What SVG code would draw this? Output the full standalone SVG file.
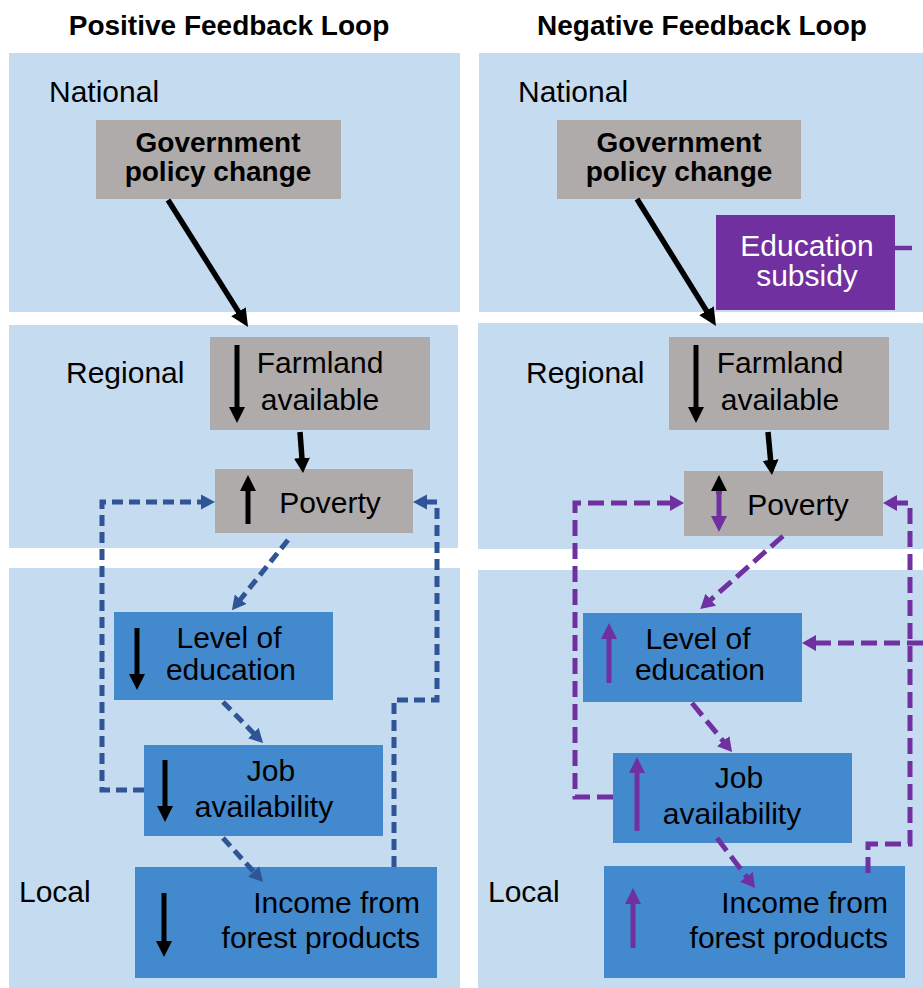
<svg xmlns="http://www.w3.org/2000/svg" width="923" height="988" viewBox="0 0 923 988">
  <style>
    .band { fill: #C5DBEF; }
    .gray { fill: #AFABAB; }
    .blue { fill: #4389CE; }
    .purple { fill: #7030A0; }
    text { font-family: "Liberation Sans", Arial, sans-serif; fill: #000; }
    .title { font-size: 28px; font-weight: bold; text-anchor: middle; }
    .lvl { font-size: 30px; }
    .bold { font-size: 28px; font-weight: bold; text-anchor: middle; }
    .lbl { font-size: 30px; text-anchor: middle; }
    .lblr { font-size: 30px; text-anchor: end; }
    .white { fill: #FFFFFF; }
    .solid { fill: none; stroke: #000; stroke-width: 5.5; }
    .inner-k { fill: none; stroke: #000; stroke-width: 5; }
    .inner-p { fill: none; stroke: #7030A0; stroke-width: 5; }
    .dash-b { fill: none; stroke: #2F5597; stroke-width: 5; stroke-dasharray: 11 6; }
    .dash-p { fill: none; stroke: #7030A0; stroke-width: 5; stroke-dasharray: 16 7; }
  </style>
  <defs>
    <marker id="hBig" markerUnits="userSpaceOnUse" markerWidth="20" markerHeight="20" viewBox="0 -9 20 18" refX="1" refY="0" orient="auto">
      <path d="M0,-8.5 L18,0 L0,8.5 z" fill="#000"/>
    </marker>
    <marker id="hMid" markerUnits="userSpaceOnUse" markerWidth="18" markerHeight="18" viewBox="0 -9 18 18" refX="1" refY="0" orient="auto">
      <path d="M0,-8 L15,0 L0,8 z" fill="#000"/>
    </marker>
    <marker id="hK" markerUnits="userSpaceOnUse" markerWidth="18" markerHeight="18" viewBox="0 -9 18 18" refX="1" refY="0" orient="auto">
      <path d="M0,-8 L16,0 L0,8 z" fill="#000"/>
    </marker>
    <marker id="hP" markerUnits="userSpaceOnUse" markerWidth="18" markerHeight="18" viewBox="0 -9 18 18" refX="1" refY="0" orient="auto">
      <path d="M0,-8 L16,0 L0,8 z" fill="#7030A0"/>
    </marker>
    <marker id="hB" markerUnits="userSpaceOnUse" markerWidth="16" markerHeight="16" viewBox="0 -8 16 16" refX="1" refY="0" orient="auto">
      <path d="M0,-7.5 L14,0 L0,7.5 z" fill="#2F5597"/>
    </marker>
    <marker id="hPd" markerUnits="userSpaceOnUse" markerWidth="16" markerHeight="16" viewBox="0 -8 16 16" refX="1" refY="0" orient="auto">
      <path d="M0,-8 L14,0 L0,8 z" fill="#7030A0"/>
    </marker>
  </defs>

  <rect width="923" height="988" fill="#FFFFFF"/>

  <!-- headings -->
  <text class="title" x="229" y="35">Positive Feedback Loop</text>
  <text class="title" x="702" y="35">Negative Feedback Loop</text>

  <!-- scale bands -->
  <rect class="band" x="9" y="53" width="451" height="259"/>
  <rect class="band" x="9" y="325" width="449" height="223"/>
  <rect class="band" x="9" y="568" width="451" height="420"/>
  <rect class="band" x="479" y="53" width="444" height="259"/>
  <rect class="band" x="478" y="323" width="445" height="226"/>
  <rect class="band" x="478" y="570" width="445" height="418"/>

  <text class="lvl" x="49" y="102">National</text>
  <text class="lvl" x="66" y="383">Regional</text>
  <text class="lvl" x="19" y="902">Local</text>
  <text class="lvl" x="518" y="102">National</text>
  <text class="lvl" x="526" y="383">Regional</text>
  <text class="lvl" x="488" y="902">Local</text>

  <!-- positive loop nodes -->
  <g id="pos-gov">
    <rect class="gray" x="96" y="120" width="245" height="79"/>
    <text class="bold" x="218" y="152">Government</text>
    <text class="bold" x="218" y="181">policy change</text>
  </g>
  <g id="pos-farmland">
    <rect class="gray" x="210" y="337" width="220" height="93"/>
    <line class="inner-k" x1="237" y1="345" x2="237" y2="408" marker-end="url(#hK)"/>
    <text class="lbl" x="320" y="373">Farmland</text>
    <text class="lbl" x="320" y="410">available</text>
  </g>
  <g id="pos-poverty">
    <rect class="gray" x="215" y="469" width="198" height="64"/>
    <line class="inner-k" x1="248" y1="524" x2="248" y2="490" marker-end="url(#hK)"/>
    <text class="lbl" x="330" y="513">Poverty</text>
  </g>
  <g id="pos-education">
    <rect class="blue" x="114" y="612" width="219" height="88"/>
    <line class="inner-k" x1="137" y1="628" x2="137" y2="675" marker-end="url(#hK)"/>
    <text class="lbl" x="229" y="648">Level of</text>
    <text class="lbl" x="231" y="680">education</text>
  </g>
  <g id="pos-jobs">
    <rect class="blue" x="144" y="745" width="239" height="91"/>
    <line class="inner-k" x1="165" y1="760" x2="165" y2="807" marker-end="url(#hK)"/>
    <text class="lbl" x="271" y="781">Job</text>
    <text class="lbl" x="264" y="817">availability</text>
  </g>
  <g id="pos-income">
    <rect class="blue" x="135" y="867" width="302" height="111"/>
    <line class="inner-k" x1="164" y1="893" x2="164" y2="942" marker-end="url(#hK)"/>
    <text class="lblr" x="420" y="913">Income from</text>
    <text class="lblr" x="420" y="948">forest products</text>
  </g>

  <!-- negative loop nodes -->
  <g id="neg-gov">
    <rect class="gray" x="557" y="120" width="244" height="79"/>
    <text class="bold" x="679" y="152">Government</text>
    <text class="bold" x="679" y="181">policy change</text>
  </g>
  <g id="neg-subsidy">
    <rect class="purple" x="716" y="215" width="179" height="95"/>
    <text class="lbl white" x="807" y="256">Education</text>
    <text class="lbl white" x="807" y="286">subsidy</text>
  </g>
  <g id="neg-farmland">
    <rect class="gray" x="669" y="337" width="220" height="93"/>
    <line class="inner-k" x1="696" y1="345" x2="696" y2="408" marker-end="url(#hK)"/>
    <text class="lbl" x="780" y="373">Farmland</text>
    <text class="lbl" x="780" y="410">available</text>
  </g>
  <g id="neg-poverty">
    <rect class="gray" x="684" y="471" width="199" height="65"/>
    <line class="inner-k" x1="719" y1="494" x2="719" y2="490" marker-end="url(#hK)"/>
    <line class="inner-p" x1="719" y1="491" x2="719" y2="517" marker-end="url(#hP)"/>
    <text class="lbl" x="798" y="515">Poverty</text>
  </g>
  <g id="neg-education">
    <rect class="blue" x="583" y="613" width="219" height="89"/>
    <line class="inner-p" x1="609" y1="683" x2="609" y2="638" marker-end="url(#hP)"/>
    <text class="lbl" x="698" y="649">Level of</text>
    <text class="lbl" x="700" y="680">education</text>
  </g>
  <g id="neg-jobs">
    <rect class="blue" x="613" y="753" width="239" height="90"/>
    <line class="inner-p" x1="637" y1="831" x2="637" y2="772" marker-end="url(#hP)"/>
    <text class="lbl" x="739" y="788">Job</text>
    <text class="lbl" x="732" y="824">availability</text>
  </g>
  <g id="neg-income">
    <rect class="blue" x="604" y="866" width="301" height="112"/>
    <line class="inner-p" x1="633" y1="948" x2="633" y2="903" marker-end="url(#hP)"/>
    <text class="lblr" x="888" y="913">Income from</text>
    <text class="lblr" x="888" y="948">forest products</text>
  </g>

  <!-- connectors -->
  <g id="connectors">
    <!-- positive loop -->
    <line class="solid" x1="168" y1="200" x2="239" y2="312.6" marker-end="url(#hBig)"/>
    <line class="solid" x1="300" y1="432" x2="302" y2="459" marker-end="url(#hMid)"/>
    <line class="dash-b" x1="288" y1="540" x2="240" y2="600" marker-end="url(#hB)"/>
    <line class="dash-b" x1="223" y1="702" x2="254" y2="733.7" marker-end="url(#hB)"/>
    <line class="dash-b" x1="223" y1="838" x2="254.3" y2="872.4" marker-end="url(#hB)"/>
    <path class="dash-b" d="M144,790 H102 V502 H202" marker-end="url(#hB)"/>
    <path class="dash-b" d="M394,867 V700 H437 V502 H426" marker-end="url(#hB)"/>

    <!-- negative loop -->
    <line class="solid" x1="637" y1="199" x2="707" y2="311.6" marker-end="url(#hBig)"/>
    <line class="solid" x1="768" y1="432" x2="770.7" y2="461" marker-end="url(#hMid)"/>
    <line class="dash-p" x1="783" y1="536" x2="710" y2="600.4" marker-end="url(#hPd)"/>
    <line class="dash-p" x1="692" y1="703" x2="723.8" y2="741.9" marker-end="url(#hPd)"/>
    <line class="dash-p" x1="717" y1="838" x2="747.1" y2="877.6" marker-end="url(#hPd)"/>
    <path class="dash-p" d="M613,797 H575 V503 H671" marker-end="url(#hPd)"/>
    <path class="dash-p" d="M868,873 V844 H910 V503 H896" marker-end="url(#hPd)"/>
    <path class="dash-p" d="M923,643 H815" marker-end="url(#hPd)"/>
    <line x1="895" y1="248" x2="912" y2="248" stroke="#7030A0" stroke-width="4.5"/>
  </g>
</svg>
